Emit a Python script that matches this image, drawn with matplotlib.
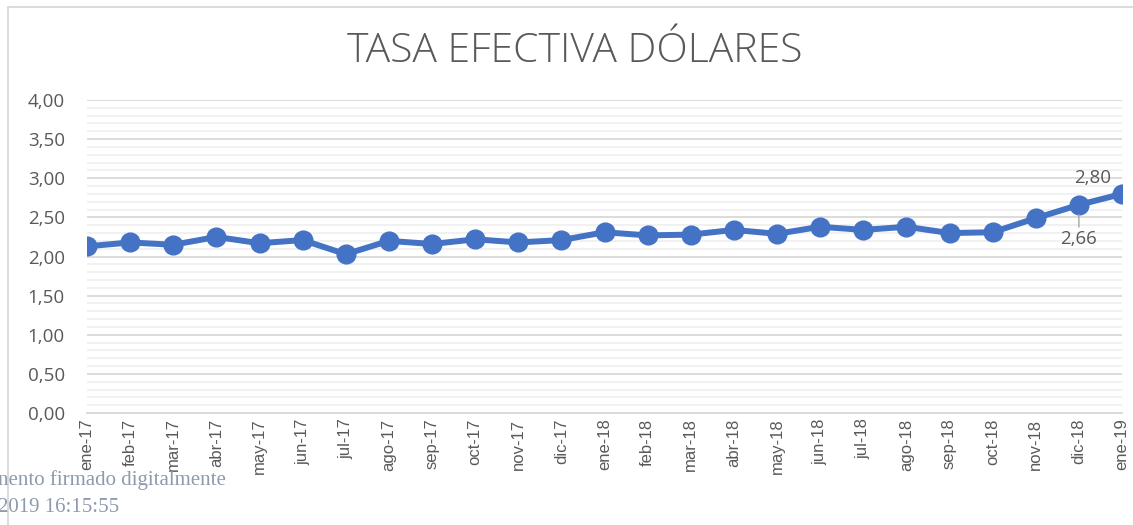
import matplotlib.pyplot as plt
from matplotlib.ticker import MultipleLocator, FuncFormatter
from matplotlib.lines import Line2D

meses = ['ene-17', 'feb-17', 'mar-17', 'abr-17', 'may-17', 'jun-17', 'jul-17',
         'ago-17', 'sep-17', 'oct-17', 'nov-17', 'dic-17', 'ene-18', 'feb-18',
         'mar-18', 'abr-18', 'may-18', 'jun-18', 'jul-18', 'ago-18', 'sep-18',
         'oct-18', 'nov-18', 'dic-18', 'ene-19']
tasa = [2.13, 2.18, 2.15, 2.25, 2.17, 2.21, 2.03, 2.20, 2.16, 2.22, 2.18, 2.21,
        2.31, 2.27, 2.28, 2.34, 2.29, 2.38, 2.34, 2.38, 2.30, 2.31, 2.49, 2.66, 2.80]

gris = '#595959'
azul = '#4472C4'

fig = plt.figure(figsize=(11.33, 5.25), dpi=100)
ax = fig.add_axes([0.0768, 0.2133, 0.9903 - 0.0768, 0.8095 - 0.2133])

x = list(range(len(meses)))
ax.plot(x, tasa, color=azul, lw=4.3, marker='o', ms=13.5, zorder=3,
        solid_capstyle='round')

ax.set_xlim(0, len(meses) - 1)
ax.set_ylim(0, 4)
ax.yaxis.set_major_locator(MultipleLocator(0.5))
ax.yaxis.set_minor_locator(MultipleLocator(0.1))
ax.yaxis.set_major_formatter(FuncFormatter(lambda v, p: f'{v:.2f}'.replace('.', ',')))
ax.grid(which='major', axis='y', color='#D9D9D9', lw=1.3, zorder=0)
ax.grid(which='minor', axis='y', color='#F0F0F0', lw=1.3, zorder=0)
ax.set_axisbelow(True)
for s in ['top', 'right', 'left']:
    ax.spines[s].set_visible(False)
ax.spines['bottom'].set_color('#D9D9D9')
ax.spines['bottom'].set_linewidth(1.3)
ax.tick_params(axis='y', which='both', length=0, pad=16, labelsize=13.5,
               labelcolor=gris)
ax.tick_params(axis='x', length=0, pad=4, labelsize=12, labelcolor=gris)
for lab in ax.get_yticklabels():
    lab.set_family('Open Sans')
ax.set_xticks(x)
ax.set_xticklabels(meses, rotation=90, family='Liberation Sans')

# etiquetas de datos
ax.annotate(f'{tasa[-1]:.2f}'.replace('.', ','), (x[-1], tasa[-1]),
            xytext=(-21, 5), textcoords='offset points', ha='center',
            va='bottom', fontsize=13.5, color=gris, family='Open Sans')
ax.annotate(f'{tasa[-2]:.2f}'.replace('.', ','), (x[-2], tasa[-2]),
            xytext=(0, -18), textcoords='offset points', ha='center',
            va='top', fontsize=13.5, color=gris, family='Open Sans',
            arrowprops=dict(arrowstyle='-', color='#A6A6A6', lw=1,
                            shrinkA=0, shrinkB=7))

fig.text(0.507, 1 - 52 / 525, 'TASA EFECTIVA DÓLARES', ha='center', va='center',
         fontsize=29.4, color=gris, family='Open Sans', weight='light')

# borde del gráfico
fig.add_artist(Line2D([8 / 1133, 8 / 1133], [0, 1 - 7 / 525], color='#D9D9D9',
                      lw=1.3, transform=fig.transFigure))
fig.add_artist(Line2D([8 / 1133, 1], [1 - 7 / 525, 1 - 7 / 525], color='#D9D9D9',
                      lw=1.3, transform=fig.transFigure))

# marca de firma digital (recortada en el borde, como en el original)
fig.text(-0.002, 1 - 480 / 525, 'nento firmado digitalmente', ha='left',
         va='center', fontsize=15, color='#8C9AAE', family='Liberation Serif')
fig.text(-0.002, 1 - 507 / 525, '2019 16:15:55', ha='left', va='center',
         fontsize=15, color='#8C9AAE', family='Liberation Serif')

fig.savefig('out.png', dpi=100)
